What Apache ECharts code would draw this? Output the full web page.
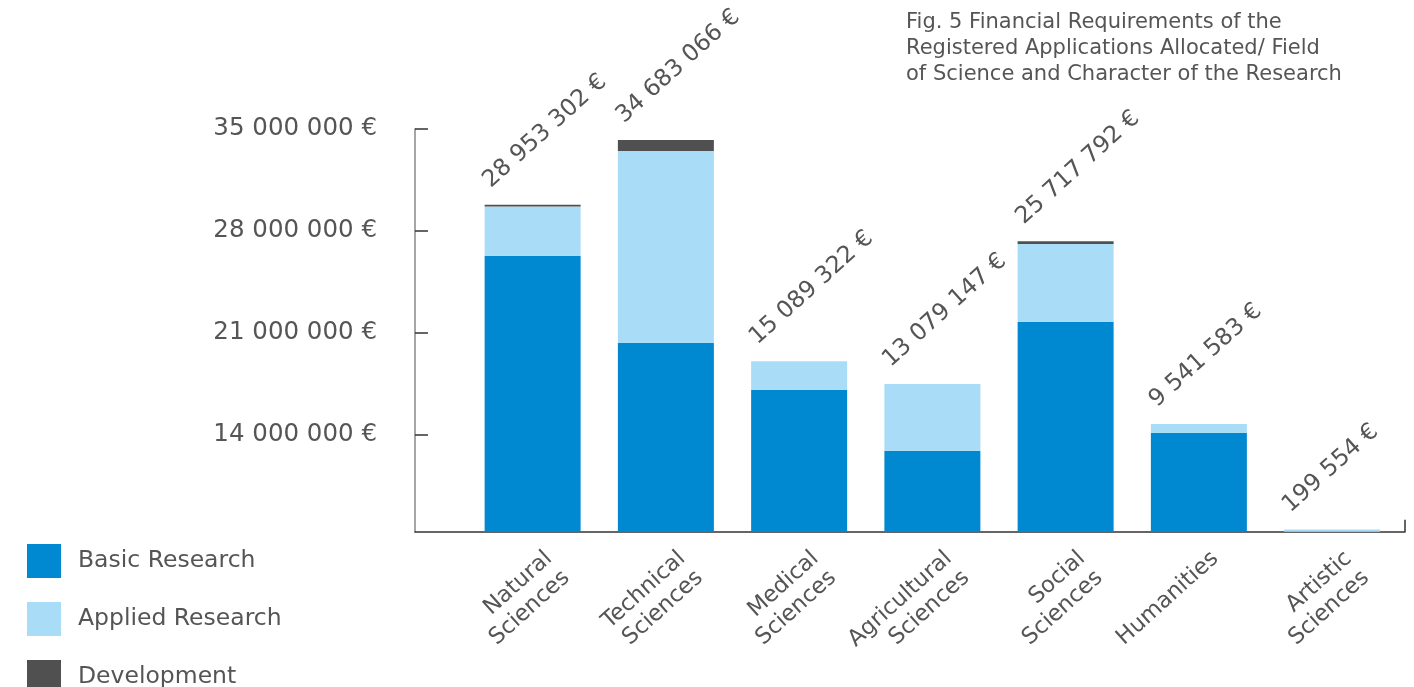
<!DOCTYPE html>
<html><head><meta charset="utf-8">
<script src="https://cdn.jsdelivr.net/npm/echarts@6/dist/echarts.min.js"></script>
<style>html,body{margin:0;padding:0;background:#fff}#c{width:1414px;height:687px}</style>
</head><body><div id="c"></div>
<script>
const categories = ['Natural\nSciences','Technical\nSciences','Medical\nSciences','Agricultural\nSciences','Social\nSciences','Humanities','Artistic\nSciences'];
const basicResearch   = [24440000, 16740000, 12550000, 7180000, 18600000, 8770000, 0];
const appliedResearch = [4363302, 16973066, 2539322, 5899147, 6877792, 771583, 199554];
const development     = [150000, 970000, 0, 0, 240000, 0, 0];
const totals          = [28953302, 34683066, 15089322, 13079147, 25717792, 9541583, 199554];
const yTickValues = [8570000, 17600000, 26630000, 35660000];
const yTickLabels = ['14 000 000 €','21 000 000 €','28 000 000 €','35 000 000 €'];
const seriesNames = ['Basic Research','Applied Research','Development'];

const FONT = 'DejaVu Sans';
const TXT = '#555';
const fmtEuro = n => String(n).replace(/\B(?=(\d{3})+(?!\d))/g, ' ') + ' €';

const chart = echarts.init(document.getElementById('c'), null, {renderer: 'canvas'});
chart.setOption({
  animation: false,
  backgroundColor: '#fff',
  textStyle: {fontFamily: FONT},
  title: {
    text: 'Fig. 5 Financial Requirements of the\nRegistered Applications Allocated/ Field\nof Science and Character of the Research',
    left: 901, top: 5,
    textStyle: {fontFamily: FONT, fontSize: 21, lineHeight: 26, fontWeight: 'normal', color: TXT}
  },
  legend: {
    orient: 'vertical', left: 22, top: 539, height: 220,
    itemWidth: 34, itemHeight: 34, itemGap: 24,
    icon: 'rect',
    data: seriesNames,
    textStyle: {fontFamily: FONT, fontSize: 23.5, color: TXT, padding: [0, 0, 0, 12]}
  },
  grid: [
    {left: 466, right: 15.25, top: 129, bottom: 155.2, containLabel: false, outerBoundsMode: 'none'},
    {left: 415, right: 9, top: 129, bottom: 155.2, containLabel: false, outerBoundsMode: 'none'}
  ],
  xAxis: [
    {
      type: 'category', gridIndex: 0, data: categories,
      axisLine: {show: false}, axisTick: {show: false},
      axisLabel: {
        interval: 0,
        rotate: 42, align: 'right', verticalAlign: 'top',
        margin: 13, padding: [6, -5, 0, 0],
        fontFamily: FONT, fontSize: 22.5, lineHeight: 26, color: TXT
      }
    },
    {
      type: 'value', gridIndex: 1, min: 0, max: 1,
      splitLine: {show: false}, axisLabel: {show: false},
      axisLine: {show: true, onZero: false, lineStyle: {color: '#333', width: 1.5}},
      axisTick: {show: true, inside: true, length: 12, customValues: [1], lineStyle: {color: '#333', width: 1.5}}
    }
  ],
  yAxis: [
    {
      type: 'value', gridIndex: 0, min: 0, max: 35660000, offset: 51,
      splitLine: {show: false},
      axisLine: {show: true, onZero: false, lineStyle: {color: '#888', width: 1.5}},
      axisTick: {show: true, inside: true, length: 13, customValues: yTickValues, lineStyle: {color: '#333', width: 1.5}},
      axisLabel: {
        customValues: yTickValues,
        formatter: v => yTickLabels[yTickValues.indexOf(v)] || '',
        margin: 38, padding: [0, 0, 7, 0],
        fontFamily: FONT, fontSize: 24.5, color: TXT
      }
    },
    {type: 'value', gridIndex: 1, show: false, min: 0, max: 1}
  ],
  series: [
    {name: seriesNames[0], type: 'bar', stack: 'total', barWidth: 96, data: basicResearch, itemStyle: {color: '#0089D1'}},
    {name: seriesNames[1], type: 'bar', stack: 'total', barWidth: 96, data: appliedResearch, itemStyle: {color: '#A9DCF6'}},
    {name: seriesNames[2], type: 'bar', stack: 'total', barWidth: 96, data: development, itemStyle: {color: '#505050'},
     label: {
       show: true, position: [2, -21], rotate: 42, align: 'left', verticalAlign: 'middle',
       fontFamily: FONT, fontSize: 23.5, color: TXT,
       formatter: p => fmtEuro(totals[p.dataIndex])
     }}
  ]
});
</script></body></html>
